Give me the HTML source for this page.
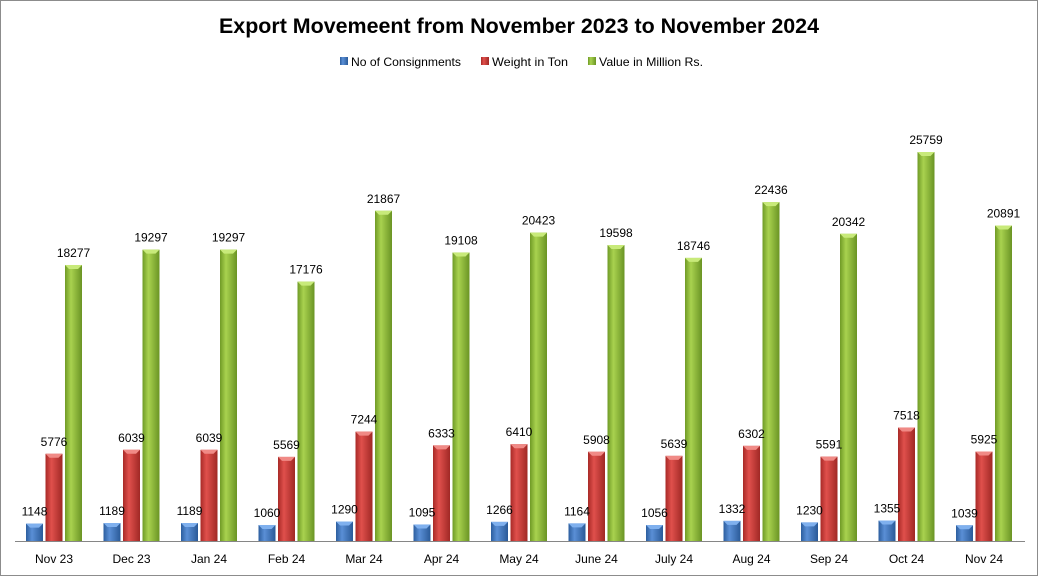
<!DOCTYPE html>
<html><head><meta charset="utf-8"><style>
html,body{margin:0;padding:0;background:#fff}
svg{display:block;font-family:"Liberation Sans",sans-serif}
</style></head><body>
<svg id="c" width="1038" height="576" xmlns="http://www.w3.org/2000/svg">
<defs>
<linearGradient id="gb" x1="0" x2="1"><stop offset="0" stop-color="#2c5e9e"/><stop offset="0.35" stop-color="#5a8fd6"/><stop offset="1" stop-color="#2a5a98"/></linearGradient>
<linearGradient id="gr" x1="0" x2="1"><stop offset="0" stop-color="#a82a27"/><stop offset="0.35" stop-color="#e0504c"/><stop offset="1" stop-color="#a02825"/></linearGradient>
<linearGradient id="gg" x1="0" x2="1"><stop offset="0" stop-color="#6f9a26"/><stop offset="0.35" stop-color="#a9d24f"/><stop offset="1" stop-color="#6a9424"/></linearGradient>
</defs>
<rect x="0.5" y="0.5" width="1037" height="575" fill="#fff" stroke="#8c8c8c"/>
<text x="219" y="33" textLength="600" lengthAdjust="spacingAndGlyphs" font-size="21" font-weight="bold" fill="#000">Export Movemeent from November 2023 to November 2024</text>
<g font-size="12" fill="#000">
<rect x="340" y="57" width="8" height="8" fill="url(#gb)"/><text x="351" y="66" textLength="110" lengthAdjust="spacingAndGlyphs">No of Consignments</text>
<rect x="481" y="57" width="8" height="8" fill="url(#gr)"/><text x="492" y="66" textLength="76" lengthAdjust="spacingAndGlyphs">Weight in Ton</text>
<rect x="588" y="57" width="8" height="8" fill="url(#gg)"/><text x="599" y="66" textLength="104" lengthAdjust="spacingAndGlyphs">Value in Million Rs.</text>
</g>
<line x1="15" y1="541.5" x2="1025" y2="541.5" stroke="#868686"/>
<g id="bars"></g>
<g id="lbl" font-size="12" fill="#000"></g>
</svg>
<script>
var labels=["Nov 23","Dec 23","Jan 24","Feb 24","Mar 24","Apr 24","May 24","June 24","July 24","Aug 24","Sep 24","Oct 24","Nov 24"];
var a=[1148,1189,1189,1060,1290,1095,1266,1164,1056,1332,1230,1355,1039];
var b=[5776,6039,6039,5569,7244,6333,6410,5908,5639,6302,5591,7518,5925];
var c=[18277,19297,19297,17176,21867,19108,20423,19598,18746,22436,20342,25759,20891];
var s="",t="",base=541,k=389/25759,fills=["url(#gb)","url(#gr)","url(#gg)"],tops=["#7fb0ee","#f08a86","#c8ea7a"];
for(var i=0;i<13;i++){
 var x0=26+i*77.5;
 [a,b,c].forEach(function(arr,j){
  var x=x0+j*19.5,w=17,h=arr[i]*k,y=base-h;
  s+='<rect x="'+x+'" y="'+y+'" width="'+w+'" height="'+h+'" fill="'+fills[j]+'"/>';
  s+='<polygon points="'+x+','+y+' '+(x+w)+','+y+' '+(x+w-4)+','+(y+4)+' '+(x+4)+','+(y+4)+'" fill="'+tops[j]+'"/>';
  t+='<text x="'+(x+w/2)+'" y="'+(y-8)+'" text-anchor="middle">'+arr[i]+'</text>';
 });
 t+='<text x="'+(x0+28)+'" y="563" text-anchor="middle">'+labels[i]+'</text>';
}
document.getElementById("bars").innerHTML=s;
document.getElementById("lbl").innerHTML=t;
</script>
</body></html>
